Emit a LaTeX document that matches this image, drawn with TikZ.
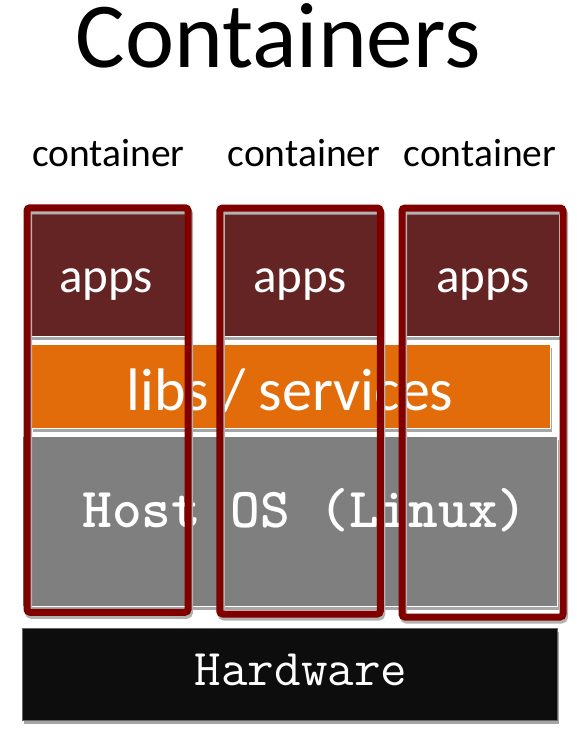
\documentclass[tikz,border=0pt]{standalone}
\usepackage{fontspec}
\setmainfont{Carlito}
\usetikzlibrary{shadows}
\definecolor{appred}{HTML}{652424}
\definecolor{libsorange}{HTML}{E36C0A}
\definecolor{hostgray}{HTML}{7F7F7F}
\definecolor{hwblack}{HTML}{0D0D0D}
\definecolor{framered}{HTML}{800000}
\tikzset{
  layer/.style    = {shape=rectangle, draw=white, line width=1pt, inner sep=0pt,
                     drop shadow={shadow xshift=1.5pt, shadow yshift=-3.5pt,
                                  fill=black!35, opacity=1}},
  appbox/.style   = {layer, fill=appred, minimum height=124pt},
  libsbox/.style  = {layer, fill=libsorange},
  hostbox/.style  = {layer, fill=hostgray},
  hwbox/.style    = {layer, fill=hwblack, draw=black!60},
  ctframe/.style  = {shape=rectangle, draw=framered, line width=7pt,
                     rounded corners=3pt, inner sep=0pt,
                     preaction={draw=black!30, line width=7pt,
                                transform canvas={shift={(1.5pt,-3pt)}}}},
  intext/.style   = {anchor=base, text=white, inner sep=0pt},
  title/.style    = {anchor=base, inner sep=0pt, font=\fontsize{93}{100}\selectfont},
  ctlabel/.style  = {anchor=base, inner sep=0pt, font=\fontsize{39.5}{44}\selectfont}
}

\begin{document}
\begin{tikzpicture}[x=1pt, y=-1pt]
  \useasboundingbox (0,0) rectangle (576,733);

  \node [title] (head) at (278,68) {Containers};

  % layers
  \node [appbox, minimum width=165pt] (app1) at (106.5,274) {};
  \node [appbox, minimum width=156pt] (app2) at (300,274.5) {};
  \node [appbox, minimum width=156pt] (app3) at (481,274.5) {};
  \node [libsbox, minimum width=519pt, minimum height=84pt] (libs) at (290.5,386) {};
  \node [hostbox, minimum width=535pt, minimum height=170pt] (host) at (289.5,521) {};
  \node [hwbox, minimum width=535pt, minimum height=92pt] (hw) at (289.5,674) {};

  % texts
  \foreach \x/\n in {106/1, 300/2, 483/3}
    \node [intext, font=\fontsize{49}{52}\selectfont] (apptext\n) at (\x,292) {apps};
  \node [intext, font=\fontsize{60}{64}\selectfont] (libstext) at (290,410) {libs / services};
  \node [intext, font=\ttfamily\bfseries\fontsize{56.5}{60}\selectfont] (hosttext) at (305,527) {Host OS (Linux)};
  \node [intext, font=\ttfamily\fontsize{51.5}{55}\selectfont] (hwtext) at (301,685) {Hardware};

  % containers
  \node [ctframe, minimum width=161pt, minimum height=404.5pt] (ct1) at (107.5,410) {};
  \node [ctframe, minimum width=160.5pt, minimum height=406pt] (ct2) at (300,411) {};
  \node [ctframe, minimum width=161pt, minimum height=409pt] (ct3) at (482.5,412.5) {};
  \node [ctlabel] (ctlabel1) at (108.5,166) {container};
  \node [ctlabel] (ctlabel2) at (304,166) {container};
  \node [ctlabel] (ctlabel3) at (480,166) {container};
\end{tikzpicture}
\end{document}
